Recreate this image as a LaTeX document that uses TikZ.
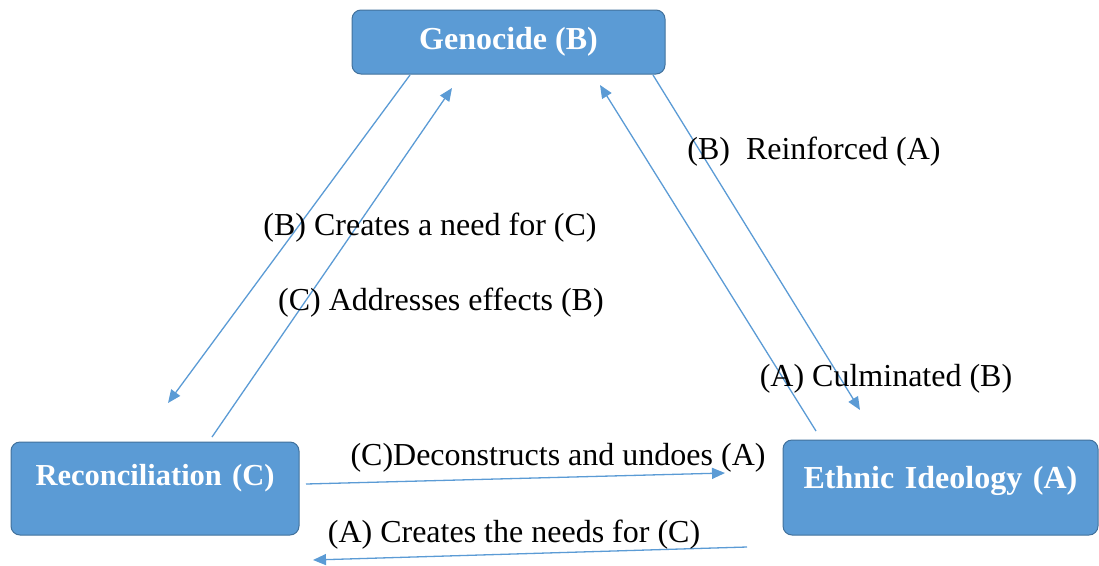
\documentclass[tikz,border=0pt]{standalone}
\usepackage{fontspec}
\setmainfont{Liberation Serif}
\usetikzlibrary{arrows.meta}
\definecolor{boxfill}{RGB}{91,155,213}
\definecolor{boxline}{RGB}{65,113,156}
\definecolor{arrowblue}{RGB}{91,155,213}
\begin{document}
\begin{tikzpicture}[x=1pt,y=-1pt,
  box/.style={draw=boxline,line width=1pt,fill=boxfill,rounded corners=9pt,
    text=white,font=\fontsize{32}{36}\selectfont\bfseries,inner sep=0pt,align=center},
  lbl/.style={font=\fontsize{32}{36}\selectfont,inner sep=0pt,anchor=center},
  conn/.style={draw=arrowblue,line width=1.3pt,-{Triangle[length=13pt,width=11pt]}}]
\useasboundingbox (0,0) rectangle (1099,565);
% boxes
\node[box,minimum width=313pt,minimum height=64pt] (gen) at (508.5,42) {Genocide (B)};
\node[box,minimum width=288pt,text height=43pt,text depth=50pt,text width=288pt,font=\fontsize{30.5}{36}\selectfont\bfseries] (rec) at (155,488.5) {Reconciliation (C)};
\node[box,minimum width=315pt,text height=48pt,text depth=47pt,text width=315pt] (eth) at (940.5,487.5) {Ethnic Ideology (A)};
% connector end points
\coordinate (a1s) at (410,75);  \coordinate (a1e) at (168,403);
\coordinate (a2s) at (212,437); \coordinate (a2e) at (452,88);
\coordinate (a3s) at (816,431); \coordinate (a3e) at (600,85);
\coordinate (a4s) at (653,75);  \coordinate (a4e) at (860,410);
\coordinate (a5s) at (306,484); \coordinate (a5e) at (725,473);
\coordinate (a6s) at (747,547); \coordinate (a6e) at (313,560);
% connectors
\draw[conn] (a1s) -- (a1e);
\draw[conn] (a2s) -- (a2e);
\draw[conn] (a3s) -- (a3e);
\draw[conn] (a4s) -- (a4e);
\draw[conn] (a5s) -- (a5e);
\draw[conn] (a6s) -- (a6e);
% labels
\node[lbl] (l1) at (814,152) {(B)\ \ Reinforced (A)};
\node[lbl] (l2) at (430,228) {(B) Creates a need for (C)};
\node[lbl] (l3) at (441,303) {(C) Addresses effects (B)};
\node[lbl] (l4) at (886,379) {(A) Culminated (B)};
\node[lbl] (l5) at (558,458) {(C)Deconstructs and undoes (A)};
\node[lbl] (l6) at (514,535) {(A) Creates the needs for (C)};
\end{tikzpicture}
\end{document}
